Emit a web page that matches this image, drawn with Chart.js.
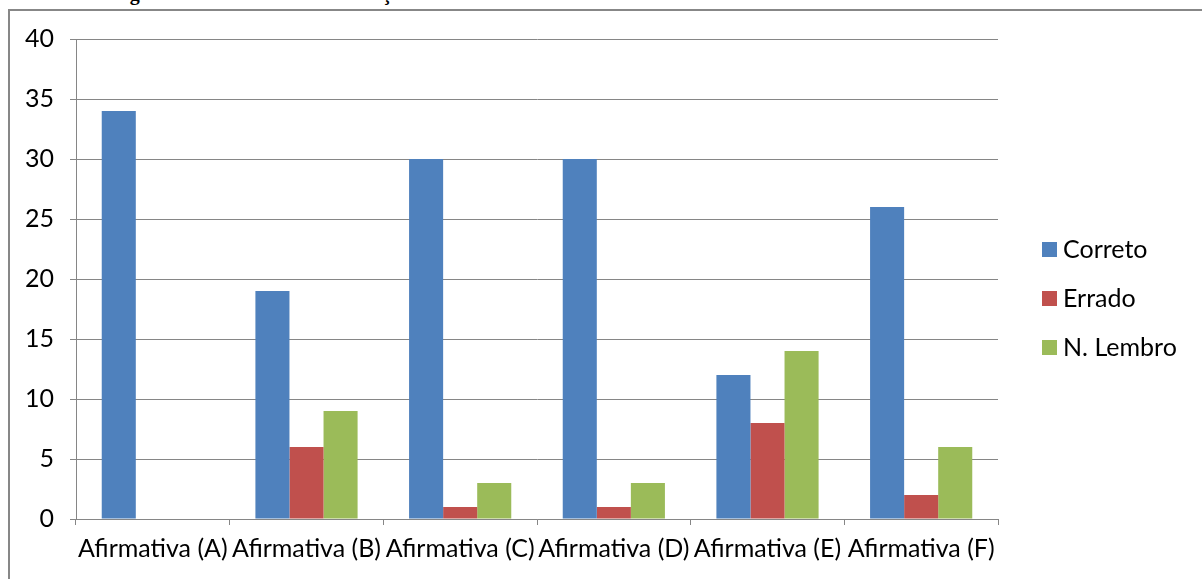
<!DOCTYPE html>
<html>
<head>
<meta charset="utf-8">
<script src="https://cdn.jsdelivr.net/npm/chart.js@4.4.1/dist/chart.umd.min.js"></script>
<style>
  html, body { margin: 0; padding: 0; background: #ffffff; }
  #wrap { position: relative; width: 1202px; height: 579px; overflow: hidden; }
  #frame { position: absolute; left: 8px; top: 9px; width: 1300px; height: 700px;
           border: 2px solid #878787; box-sizing: border-box; }
  #caption { position: absolute; left: 112px; top: -17px; font-family: "Liberation Serif", serif;
             font-weight: bold; font-size: 20px; line-height: 20px; white-space: nowrap; color: #000; }
  #c { position: absolute; left: 0; top: 0; }
</style>
</head>
<body>
<div id="wrap">
  <div id="caption">Figura 5 – Resultados da Avaliação</div>
  <div id="frame"></div>
  <canvas id="c" width="1202" height="579"></canvas>
</div>
<script>
// Categories and answer counts per statement
const categories = ['Afirmativa (A)', 'Afirmativa (B)', 'Afirmativa (C)', 'Afirmativa (D)', 'Afirmativa (E)', 'Afirmativa (F)'];
const correto   = [34, 19, 30, 30, 12, 26];
const errado    = [0, 6, 1, 1, 8, 2];
const naoLembro = [0, 9, 3, 3, 14, 6];
const seriesNames = ['Correto', 'Errado', 'N. Lembro'];
const seriesColors = ['#4F81BD', '#C0504D', '#9BBB59'];
const yTicks = [0, 5, 10, 15, 20, 25, 30, 35, 40];

const FONT = 'Lato';
const FSIZE = 25;
const AXIS = '#868686';

// Legend drawn at the right of the plot, one row per series
const sideLegend = {
  id: 'sideLegend',
  afterDraw(chart) {
    const ctx = chart.ctx;
    ctx.save();
    ctx.font = FSIZE + 'px ' + FONT;
    ctx.textBaseline = 'middle';
    ctx.textAlign = 'left';
    chart.data.datasets.forEach((ds, i) => {
      const cy = 249 + i * 49;
      ctx.fillStyle = ds.backgroundColor;
      ctx.fillRect(1042, cy - 7, 15, 15);
      ctx.fillStyle = '#000';
      ctx.fillText(ds.label, 1063, cy + 1);
    });
    ctx.restore();
  }
};

const values = [correto, errado, naoLembro];

new Chart(document.getElementById('c'), {
  type: 'bar',
  data: {
    labels: categories,
    datasets: seriesNames.map((name, i) => ({
      label: name,
      data: values[i],
      backgroundColor: seriesColors[i],
      borderWidth: 0,
      categoryPercentage: 0.665,
      barPercentage: 1.0
    }))
  },
  options: {
    responsive: false,
    animation: false,
    devicePixelRatio: 1,
    layout: { padding: { top: 39, right: 204, left: 0, bottom: 0 } },
    plugins: {
      legend: { display: false },
      tooltip: { enabled: false }
    },
    scales: {
      x: {
        afterFit(scale) { scale.height = 60; },
        grid: { offset: true, drawOnChartArea: false, color: AXIS, tickLength: 6, lineWidth: 1 },
        border: { color: AXIS, width: 1 },
        ticks: { color: '#000', font: { family: FONT, size: FSIZE }, padding: 9, maxRotation: 0, autoSkip: false }
      },
      y: {
        min: 0, max: 40,
        afterFit(scale) { scale.width = 76; },
        afterBuildTicks(scale) { scale.ticks = yTicks.map(v => ({ value: v })); },
        grid: { color: AXIS, tickLength: 6, lineWidth: 1 },
        border: { color: AXIS, width: 1 },
        ticks: { color: '#000', font: { family: FONT, size: FSIZE }, padding: 16 }
      }
    }
  },
  plugins: [sideLegend]
});
</script>
</body>
</html>
